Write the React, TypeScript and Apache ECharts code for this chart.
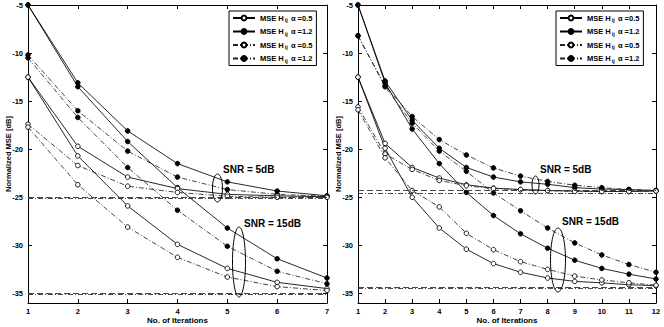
import React, { useEffect, useRef } from "react";
import * as echarts from "echarts";

// ---------- data ----------
const leftIterations = [1, 2, 3, 4, 5, 6, 7];
const rightIterations = [1, 2, 3, 4, 5, 6, 7, 8, 9, 10, 11, 12];
const yTickValues = [-35, -30, -25, -20, -15, -10, -5];

const legendLabels = ["α =0.5", "α =1.2", "α =0.5", "α =1.2"];
const seriesKeys = ["solidA05", "solidA12", "dashdotA05", "dashdotA12"];

// left panel, SNR = 5 dB
const leftSnr5SolidA05 = [-12.5, -19.7, -22.9, -24.1, -24.7, -24.85, -24.95];
const leftSnr5SolidA12 = [-5, -13.1, -18.1, -21.5, -23.4, -24.35, -24.85];
const leftSnr5DashA05 = [-17.4, -21.7, -23.85, -24.5, -24.9, -25.0, -25.0];
const leftSnr5DashA12 = [-10.2, -16.0, -20.2, -22.9, -24.2, -24.7, -24.9];
// left panel, SNR = 15 dB
const leftSnr15SolidA05 = [-12.5, -20.7, -25.9, -29.9, -32.4, -33.85, -34.5];
const leftSnr15SolidA12 = [-5, -13.5, -19.2, -24.0, -28.2, -31.4, -33.4];
const leftSnr15DashA05 = [-17.7, -23.7, -28.1, -31.25, -33.3, -34.3, -34.7];
const leftSnr15DashA12 = [-10.5, -16.7, -21.9, -26.35, -30.1, -32.7, -34.0];
const leftBoundsDashed = [-24.95, -35.0];
const leftBoundsDashDot = [-25.1, -35.1];

// right panel, SNR = 5 dB
const rightSnr5SolidA05 = [-12.5, -19.4, -21.9, -23.0, -23.7, -24.05, -24.2, -24.3, -24.35, -24.4, -24.4, -24.35];
const rightSnr5SolidA12 = [-5, -12.9, -17.0, -19.9, -21.9, -22.9, -23.4, -23.65, -24.0, -24.15, -24.2, -24.3];
const rightSnr5DashA05 = [-15.6, -20.5, -22.1, -23.25, -23.8, -24.1, -24.2, -24.3, -24.4, -24.4, -24.4, -24.35];
const rightSnr5DashA12 = [-8.2, -13.4, -16.6, -19.0, -20.6, -21.95, -22.8, -23.35, -23.75, -24.0, -24.2, -24.3];
// right panel, SNR = 15 dB
const rightSnr15SolidA05 = [-12.5, -19.9, -25.0, -28.2, -30.4, -31.9, -32.8, -33.4, -33.75, -33.9, -34.1, -34.2];
const rightSnr15SolidA12 = [-5, -13.1, -17.9, -21.5, -24.5, -26.9, -28.8, -30.3, -31.55, -32.4, -33.0, -33.5];
const rightSnr15DashA05 = [-15.9, -20.9, -24.3, -26.0, -28.75, -30.45, -31.7, -32.5, -33.2, -33.6, -33.9, -34.15];
const rightSnr15DashA12 = [-8.2, -13.5, -17.3, -20.2, -22.3, -24.55, -26.4, -28.2, -29.75, -31.0, -32.0, -32.8];
const rightBoundsDashed = [-24.25, -34.4];
const rightBoundsDashDot = [-24.55, -34.45];

// ---------- styling ----------
const FONT = "'Liberation Sans', Arial, Helvetica, sans-serif";
const DASHDOT = [5, 2, 1, 2];

function makeSeries(key: string, values: number[], xs: number[], idx: number) {
  const solid = key.startsWith("solid");
  const filled = key.endsWith("A12");
  return {
    type: "line",
    name: key,
    xAxisIndex: idx,
    yAxisIndex: idx,
    data: xs.map((x, i) => [x, values[i]]),
    symbol: "circle",
    symbolSize: 4.6,
    lineStyle: { color: solid ? "#000" : "#222", width: 0.85, type: solid ? "solid" : DASHDOT },
    itemStyle: { color: filled ? "#000" : "#fff", borderColor: "#000", borderWidth: 0.9 },
    emphasis: { disabled: true },
    silent: true,
    z: filled ? 3 : 4,
  };
}

function boundsSeries(dashed: number[], dashdot: number[], idx: number) {
  return {
    type: "line",
    name: "bounds" + idx,
    xAxisIndex: idx,
    yAxisIndex: idx,
    data: [],
    silent: true,
    markLine: {
      silent: true,
      symbol: "none",
      label: { show: false },
      animation: false,
      data: [
        ...dashed.map((v) => ({ yAxis: v, lineStyle: { type: [6, 3], color: "#333", width: 0.9 } })),
        ...dashdot.map((v) => ({ yAxis: v, lineStyle: { type: DASHDOT, color: "#333", width: 0.9 } })),
      ],
    },
  };
}

function xAxisPair(gridIndex: number, xs: number[]) {
  const min = xs[0];
  const max = xs[xs.length - 1];
  return [
    {
      type: "value",
      gridIndex,
      min,
      max,
      interval: 1,
      name: "No. of Iterations",
      nameLocation: "middle",
      nameGap: 13,
      nameMoveOverlap: false,
      nameTextStyle: { fontSize: 8, lineHeight: 8, fontWeight: "bold", color: "#000", fontFamily: FONT },
      axisLine: { show: true, lineStyle: { color: "#000", width: 1 } },
      axisTick: { show: true, inside: true, length: 4, lineStyle: { color: "#000" } },
      axisLabel: { fontSize: 7.5, lineHeight: 8, fontWeight: "bold", color: "#000", margin: 4, fontFamily: FONT },
      splitLine: { show: false },
    },
    {
      type: "value",
      gridIndex,
      position: "top",
      min,
      max,
      interval: 1,
      axisLine: { show: true, lineStyle: { color: "#000", width: 1 } },
      axisTick: { show: true, inside: true, length: 4, lineStyle: { color: "#000" } },
      axisLabel: { show: false },
      splitLine: { show: false },
    },
  ];
}

function yAxisPair(gridIndex: number) {
  return [
    {
      type: "value",
      gridIndex,
      min: -36,
      max: -5,
      name: "Normalized MSE [dB]",
      nameLocation: "middle",
      nameGap: 16,
      nameMoveOverlap: false,
      nameTextStyle: { fontSize: 7.5, lineHeight: 8, fontWeight: "bold", color: "#000", fontFamily: FONT },
      axisLine: { show: true, lineStyle: { color: "#000", width: 1 } },
      axisTick: { show: true, inside: true, length: 4, customValues: yTickValues, lineStyle: { color: "#000" } },
      axisLabel: {
        fontSize: 7.5,
        fontWeight: "bold",
        color: "#000",
        margin: 5,
        fontFamily: FONT,
        customValues: yTickValues,
      },
      splitLine: { show: false },
    },
    {
      type: "value",
      gridIndex,
      position: "right",
      min: -36,
      max: -5,
      axisLine: { show: true, lineStyle: { color: "#000", width: 1 } },
      axisTick: { show: true, inside: true, length: 4, customValues: yTickValues, lineStyle: { color: "#000" } },
      axisLabel: { show: false },
      splitLine: { show: false },
    },
  ];
}

function legendAt(left: number) {
  return {
    left,
    top: 11,
    orient: "vertical",
    data: seriesKeys,
    selectedMode: false,
    backgroundColor: "#fff",
    borderColor: "#000",
    borderWidth: 1,
    padding: [2, 4, 2, 3],
    itemWidth: 22,
    itemHeight: 6,
    itemGap: 3.5,
    formatter: (name: string) => {
      const i = seriesKeys.indexOf(name);
      return "{a|MSE H}{s|ij}{a| " + legendLabels[i] + "}";
    },
    textStyle: {
      color: "#000",
      fontFamily: FONT,
      rich: {
        a: { fontSize: 7.5, fontWeight: "bold", color: "#000", fontFamily: FONT, lineHeight: 9 },
        s: { fontSize: 5.5, fontWeight: "bold", color: "#000", fontFamily: FONT, lineHeight: 9, padding: [4, 1, 0, 1] },
      },
    },
  };
}

function annotText(text: string, x: number, y: number) {
  return {
    type: "text",
    x,
    y,
    silent: true,
    style: {
      text,
      fontSize: 10,
      fontWeight: "bold",
      fontFamily: FONT,
      fill: "#000",
      verticalAlign: "middle",
      align: "left",
    },
    z: 20,
  };
}

function annotEllipse(cx: number, cy: number, rx: number, ry: number) {
  return {
    type: "ellipse",
    silent: true,
    shape: { cx, cy, rx, ry },
    style: { fill: "none", stroke: "#000", lineWidth: 1 },
    z: 20,
  };
}

export default function App() {
  const ref = useRef<HTMLDivElement>(null);

  useEffect(() => {
    if (!ref.current) return;
    const chart = echarts.init(ref.current, undefined, { renderer: "svg" });

    const leftSets = [
      [leftSnr5SolidA05, leftSnr5SolidA12, leftSnr5DashA05, leftSnr5DashA12],
      [leftSnr15SolidA05, leftSnr15SolidA12, leftSnr15DashA05, leftSnr15DashA12],
    ];
    const rightSets = [
      [rightSnr5SolidA05, rightSnr5SolidA12, rightSnr5DashA05, rightSnr5DashA12],
      [rightSnr15SolidA05, rightSnr15SolidA12, rightSnr15DashA05, rightSnr15DashA12],
    ];

    const series: any[] = [];
    leftSets.forEach((set) => set.forEach((vals, k) => series.push(makeSeries(seriesKeys[k], vals, leftIterations, 0))));
    rightSets.forEach((set) => set.forEach((vals, k) => series.push(makeSeries(seriesKeys[k], vals, rightIterations, 1))));
    series.push(boundsSeries(leftBoundsDashed, leftBoundsDashDot, 0));
    series.push(boundsSeries(rightBoundsDashed, rightBoundsDashDot, 1));

    const [lxb, lxt] = xAxisPair(0, leftIterations);
    const [rxb, rxt] = xAxisPair(1, rightIterations);
    const [lyl, lyr] = yAxisPair(0);
    const [ryl, ryr] = yAxisPair(1);

    chart.setOption({
      animation: false,
      backgroundColor: "#fff",
      textStyle: { fontFamily: FONT },
      grid: [
        { left: 28, top: 5, width: 299, height: 298, show: false, containLabel: false, outerBoundsMode: "none" },
        { left: 358, top: 5, width: 298, height: 298, show: false, containLabel: false, outerBoundsMode: "none" },
      ],
      xAxis: [lxb, rxb, lxt, rxt],
      yAxis: [lyl, ryl, lyr, ryr],
      legend: [legendAt(229), legendAt(556)],
      series,
      graphic: [
        annotText("SNR = 5dB", 223, 169),
        annotEllipse(217.5, 188, 5, 14),
        annotText("SNR = 15dB", 244, 223),
        annotEllipse(239, 262, 6.5, 35),
        annotText("SNR = 5dB", 540, 169),
        annotEllipse(535.5, 185, 3.5, 9),
        annotText("SNR = 15dB", 562, 221),
        annotEllipse(558, 260, 7.5, 32),
      ],
    });

    return () => chart.dispose();
  }, []);

  return (
    <div
      ref={ref}
      style={{ position: "absolute", left: 0, top: 0, width: 664, height: 327, background: "#fff" }}
    />
  );
}
